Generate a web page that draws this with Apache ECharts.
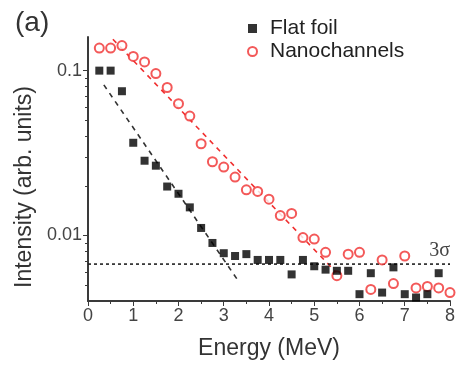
<!DOCTYPE html>
<html>
<head>
<meta charset="utf-8">
<title>Intensity vs energy</title>
<script src="https://cdn.jsdelivr.net/npm/echarts@6/dist/echarts.min.js"></script>
<style>
  html, body { margin: 0; padding: 0; background: #fff; }
  #chart { width: 458px; height: 365px; }
</style>
</head>
<body>
<div id="chart"></div>
<script>
// energy grid (MeV), one point every 0.25
var flatX = [0.25,0.5,0.75,1,1.25,1.5,1.75,2,2.25,2.5,2.75,3,3.25,3.5,3.75,4,
             4.25,4.5,4.75,5,5.25,5.5,5.75,6,6.25,6.5,6.75,7,7.25,7.5,7.75];
var flatY = [0.1,0.1,0.075,0.0365,0.0284,0.0265,0.0198,0.0179,0.0148,0.0111,0.009,0.0078,
             0.0075,0.0077,0.0071,0.0071,0.0071,0.0058,0.0071,0.0065,0.0062,0.0061,0.0061,
             0.0044,0.0059,0.0045,0.0064,0.0044,0.0042,0.0044,0.0059];
var nanoX = [0.25,0.5,0.75,1,1.25,1.5,1.75,2,2.25,2.5,2.75,3,3.25,3.5,3.75,4,
             4.25,4.5,4.75,5,5.25,5.5,5.75,6,6.25,6.5,6.75,7,7.25,7.5,7.75,8];
var nanoY = [0.137,0.137,0.142,0.122,0.113,0.096,0.079,0.063,0.053,0.036,0.028,0.026,
             0.0226,0.0189,0.0185,0.0166,0.0132,0.0136,0.0097,0.0095,0.0079,0.0057,0.0077,
             0.0079,0.0047,0.0071,0.0051,0.0075,0.0048,0.0049,0.0048,0.0045];
// dashed guide lines (start / end points)
var flatFitX = [0.35, 3.3];
var flatFitY = [0.082, 0.0054];
var nanoFitX = [0.55, 5.5];
var nanoFitY = [0.155, 0.0059];
// 3 sigma level, drawn across the whole energy range
var sigmaX = [0, 8];
var sigmaLevel = 0.0067;
var yMajor = [0.01, 0.1];
var yMinor = [0.005,0.006,0.007,0.008,0.009,0.02,0.03,0.04,0.05,0.06,0.07,0.08,0.09];

function pairs(xs, ys) {
    return xs.map(function (x, i) { return [x, ys[i]]; });
}

var axisColor = '#3a3a3a';
var textColor = '#444';
var font = 'Liberation Sans';

var sigmaData = sigmaX.map(function (x) { return [x, sigmaLevel]; });
// label "3σ" sits on the right end of the dotted line
sigmaData[sigmaData.length - 1] = {
    value: sigmaData[sigmaData.length - 1],
    label: {
        show: true, position: 'top', align: 'right', distance: 3,
        formatter: '3σ', fontFamily: 'Liberation Serif', fontSize: 20, color: '#444'
    }
};

var chart = echarts.init(document.getElementById('chart'));
chart.setOption({
    animation: false,
    grid: { left: 88, right: 3, top: 37, bottom: 57, containLabel: false },
    graphic: [{
        type: 'text', left: 15, top: 9,
        style: { text: '(a)', font: '28px Liberation Sans', fill: '#333' }
    }],
    legend: {
        orient: 'vertical', left: 242, top: 13, itemGap: 2,
        itemWidth: 9, itemHeight: 9,
        textStyle: { fontFamily: font, fontSize: 21, color: '#222', padding: [0, 0, 0, 8] },
        data: [
            { name: 'Flat foil', icon: 'rect' },
            { name: 'Nanochannels', icon: 'emptyCircle' }
        ]
    },
    xAxis: {
        type: 'value', min: 0, max: 8, interval: 1,
        name: 'Energy (MeV)', nameLocation: 'middle', nameGap: 36,
        nameTextStyle: { fontFamily: font, fontSize: 23, color: '#333' },
        axisLine: { lineStyle: { color: axisColor, width: 2 } },
        axisTick: { length: 5, lineStyle: { color: axisColor } },
        minorTick: { show: true, splitNumber: 2, length: 3, lineStyle: { color: axisColor } },
        axisLabel: { fontFamily: font, fontSize: 18, color: textColor, margin: 6 },
        splitLine: { show: false }
    },
    yAxis: [{
        type: 'log', min: 0.004, max: 0.16,
        name: 'Intensity (arb. units)', nameLocation: 'middle', nameGap: 50,
        nameTextStyle: { fontFamily: font, fontSize: 23, color: '#333', padding: [0, 36, 0, 0] },
        axisLine: { lineStyle: { color: axisColor, width: 2 } },
        axisTick: { length: 5, customValues: yMajor, lineStyle: { color: axisColor } },
        axisLabel: { customValues: yMajor, fontFamily: font, fontSize: 18, color: textColor, margin: 6 },
        splitLine: { show: false }
    }, {
        type: 'log', min: 0.004, max: 0.16, position: 'left',
        axisLine: { show: false },
        axisTick: { length: 3, customValues: yMinor, lineStyle: { color: axisColor } },
        axisLabel: { show: false },
        splitLine: { show: false }
    }],
    series: [{
        name: 'Flat foil', type: 'scatter', symbol: 'rect', symbolSize: 8,
        itemStyle: { color: '#000' },
        data: pairs(flatX, flatY),
        z: 4
    }, {
        name: 'Nanochannels', type: 'scatter', symbol: 'emptyCircle', symbolSize: 9,
        itemStyle: { color: '#f03030', borderColor: '#f03030', borderWidth: 1.2 },
        data: pairs(nanoX, nanoY),
        z: 3
    }, {
        type: 'line', symbol: 'none', silent: true,
        lineStyle: { color: '#333', width: 1.6, type: [5, 5] },
        data: pairs(flatFitX, flatFitY)
    }, {
        type: 'line', symbol: 'none', silent: true,
        lineStyle: { color: '#f03030', width: 1.6, type: [5, 5] },
        data: pairs(nanoFitX, nanoFitY)
    }, {
        type: 'line', symbol: 'circle', symbolSize: 0, showSymbol: true, silent: true,
        itemStyle: { color: '#222' },
        lineStyle: { color: '#222', width: 1.6, type: [3, 3] },
        data: sigmaData
    }]
});
</script>
</body>
</html>
